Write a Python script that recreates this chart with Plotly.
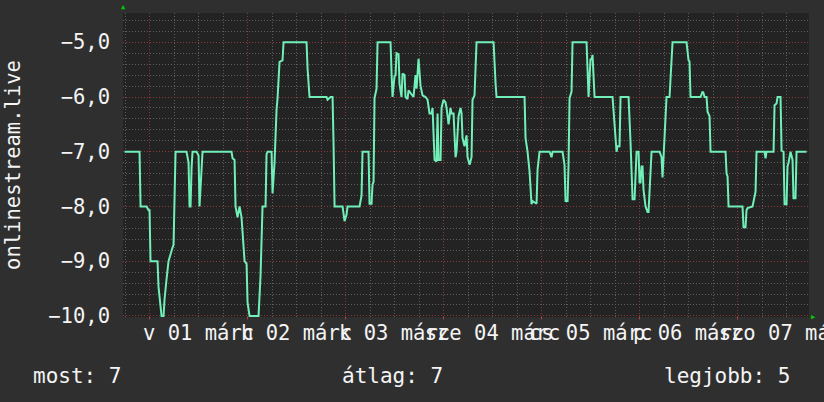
import plotly.graph_objects as go

# ---- data (hours since 2015-03-01 00:00, value = negated rank) ----
hours = [-6.12, -2.45, -2.20, -0.73, -0.24, 0.00, 0.24, 1.96, 2.20, 2.69, 2.94, 3.43, 3.67, 4.16, 4.65,
         5.63, 5.88, 6.37, 9.06, 9.31, 9.55, 9.80, 10.04, 10.29, 10.53, 11.51, 12.00, 12.24, 12.73, 12.98,
         20.08, 20.33, 20.82, 21.06, 21.55, 22.04, 22.53, 23.27, 23.76, 24.00, 24.49, 26.69, 27.18, 27.67,
         28.41, 28.65, 28.90, 29.88, 30.12, 30.61, 31.10, 31.35, 31.84, 32.57, 32.82, 38.45, 38.69, 39.18,
         43.35, 43.59, 44.33, 44.82, 45.06, 45.31, 47.27, 47.76, 48.25, 48.49, 51.43, 51.92, 52.16, 53.63,
         53.88, 54.37, 54.61, 54.86, 55.10, 55.59, 55.84, 59.02, 59.27, 59.51, 60.00, 60.25, 60.49, 60.98,
         61.22, 61.71, 61.96, 62.45, 62.69, 63.18, 63.43, 63.92, 64.16, 64.65, 65.14, 65.39, 65.88, 66.37,
         66.86, 67.59, 68.08, 68.57, 69.06, 69.31, 69.80, 70.29, 70.53, 70.78, 71.27, 71.51, 72.00, 72.49,
         72.74, 73.23, 73.71, 73.96, 74.45, 74.94, 75.18, 75.67, 76.16, 76.41, 76.65, 77.14, 77.63, 77.88,
         78.37, 78.86, 79.10, 79.59, 80.08, 84.25, 84.74, 84.98, 91.84, 92.08, 92.57, 93.06, 93.55, 93.80,
         94.78, 95.02, 95.51, 97.96, 98.45, 98.69, 101.14, 101.63, 101.88, 102.37, 102.61, 102.86, 103.35,
         103.59, 107.02, 107.27, 107.51, 108.00, 108.25, 108.49, 108.98, 113.39, 113.88, 114.37, 114.61,
         115.10, 115.35, 117.31, 117.80, 118.04, 118.29, 118.78, 119.02, 119.27, 119.76, 120.00, 120.24,
         120.49, 120.73, 120.98, 121.47, 121.96, 122.20, 122.45, 122.94, 124.90, 125.39, 125.63, 126.12,
         126.61, 127.35, 127.84, 128.08, 131.51, 132.00, 132.24, 132.49, 134.94, 135.43, 135.67, 135.92,
         136.41, 136.65, 137.14, 137.39, 141.06, 141.31, 141.55, 141.80, 145.22, 145.47, 145.96, 146.20,
         146.45, 147.67, 148.41, 148.65, 150.61, 150.86, 151.10, 152.82, 153.06, 153.55, 153.80, 154.53,
         154.78, 155.27, 155.51, 156.00, 156.24, 156.49, 156.98, 157.22, 157.47, 157.71, 158.20, 158.45,
         160.90]
values = [-7.0, -7.0, -8.0, -8.0, -8.07, -8.07, -9.0, -9.0, -9.47, -9.93, -10.0, -10.0, -9.7, -9.33, -9.0,
          -8.75, -8.7, -7.0, -7.0, -7.1, -7.2, -8.0, -8.0, -7.3, -7.0, -7.0, -7.07, -8.0, -7.45, -7.0,
          -7.0, -7.12, -7.15, -8.0, -8.2, -8.0, -8.2, -9.0, -9.05, -9.75, -10.0, -10.0, -9.27, -8.0,
          -8.0, -7.05, -7.0, -7.0, -7.76, -7.2, -6.24, -6.02, -5.36, -5.33, -5.0, -5.0, -5.47, -6.0,
          -6.0, -6.05, -6.0, -6.0, -6.84, -8.0, -8.0, -8.27, -8.15, -8.0, -8.0, -7.8, -7.0, -7.0,
          -7.95, -7.95, -7.6, -7.55, -6.02, -5.85, -5.0, -5.0, -5.56, -6.0, -5.62, -5.6, -5.2, -5.22,
          -5.76, -6.0, -5.57, -5.6, -6.0, -6.04, -5.88, -5.93, -5.97, -6.0, -5.6, -5.85, -5.3, -5.8,
          -5.97, -6.0, -6.05, -6.3, -6.3, -6.2, -7.15, -7.18, -6.3, -7.15, -7.15, -6.2, -6.05, -6.1,
          -6.2, -6.5, -6.2, -6.3, -6.3, -7.1, -7.0, -6.35, -6.2, -6.3, -6.75, -6.9, -6.7, -7.1,
          -7.24, -7.1, -6.05, -5.97, -5.0, -5.0, -5.75, -6.0, -6.0, -6.75, -7.0, -7.36, -7.96, -7.9,
          -7.95, -7.33, -7.0, -7.0, -7.1, -7.0, -7.0, -7.24, -7.9, -7.9, -7.24, -6.02, -5.9,
          -5.0, -5.0, -5.65, -6.0, -5.3, -5.32, -5.23, -6.0, -6.0, -6.55, -7.0, -6.9,
          -6.9, -6.0, -6.0, -6.84, -7.47, -7.87, -7.87, -7.27, -7.0, -7.0, -7.56, -7.56,
          -7.27, -7.27, -7.7, -8.0, -8.1, -8.1, -7.7, -7.0, -7.0, -7.1, -7.47, -6.73,
          -6.0, -6.0, -5.38, -5.0, -5.0, -5.33, -5.35, -6.0, -6.0, -5.9, -5.93, -6.0,
          -6.0, -6.27, -6.35, -7.0, -7.0, -7.4, -7.45, -8.0, -8.0, -8.38, -8.38, -8.07,
          -8.03, -8.0, -7.73, -7.0, -7.0, -7.12, -7.0, -7.0, -6.15, -6.12, -6.0, -6.0,
          -6.98, -7.0, -7.96, -7.96, -7.27, -7.2, -7.0, -7.1, -7.15, -7.85, -7.85, -7.0,
          -7.0]

day_ticks = [0, 24, 48, 72, 96, 120, 144]
label_ticks = [12, 36, 60, 84, 108, 132, 156]
day_labels = ["v 01 márc", "h 02 márc", "k 03 márc", "sze 04 márc", "cs 05 márc", "p 06 márc", "szo 07 márc"]
y_ticks = [-10, -9, -8, -7, -6, -5]

series_name = "onlinestream.live"
summary_labels = ["most", "átlag", "legjobb"]
summary_values = [7, 7, 5]

# ---- style ----
PAGE_BG = "#2f2f2f"
PLOT_BG = "#232323"
MINOR = "#5e5e5e"
MAJOR = "#8e3a3a"
LINE = "#70f0b8"
FONT = "DejaVu Sans Mono"
TXT = "#f4f4f4"
X_RANGE = [-6.5, 161.5]
Y_RANGE = [-10.02, -4.465]
DASH = "1px,2px"

# 6-hourly grid positions that are neither midnight nor noon (noon = label ticks)
x_minor = [h for h in range(-6, 162, 6) if h % 12 != 0]
y_minor = [round(-10 + 0.2 * i, 1) for i in range(0, 28) if i % 5 != 0]

fig = go.Figure()
fig.add_trace(go.Scatter(x=hours, y=values, mode="lines",
                         line=dict(color=LINE, width=2), hoverinfo="skip",
                         showlegend=False))

# midnight (day) gridlines in red
for d in day_ticks:
    fig.add_shape(type="line", xref="x", yref="paper", x0=d, x1=d, y0=0, y1=1,
                  line=dict(color=MAJOR, width=1, dash=DASH), layer="between")
    fig.add_shape(type="line", xref="x", yref="paper", x0=d, x1=d, y0=0, y1=-0.008,
                  line=dict(color="#c04040", width=1), layer="between")

fig.update_layout(
    width=824, height=402,
    margin=dict(l=123, r=15, t=13, b=85, autoexpand=False),
    paper_bgcolor=PAGE_BG, plot_bgcolor=PLOT_BG,
    separators=",.",
    font=dict(family=FONT, color=TXT, size=20.5),
    xaxis=dict(range=X_RANGE, tickmode="array", tickvals=label_ticks, ticktext=day_labels,
               ticks="", tickangle=0, ticklabelstandoff=1, ticklabeloverflow="allow",
               automargin=False,
               tickfont=dict(family=FONT, size=20.5, color=TXT),
               showgrid=True, gridcolor=MINOR, griddash=DASH, gridwidth=1,
               minor=dict(tickmode="array", tickvals=x_minor, showgrid=True,
                          gridcolor=MINOR, griddash=DASH, gridwidth=1),
               zeroline=False, showline=False, fixedrange=True),
    yaxis=dict(range=Y_RANGE, tickmode="array", tickvals=y_ticks, tickformat=".1f",
               showgrid=True, gridcolor=MAJOR, griddash=DASH, gridwidth=1,
               minor=dict(tickmode="array", tickvals=y_minor, showgrid=True,
                          gridcolor=MINOR, griddash=DASH, gridwidth=1),
               ticks="", ticklabelstandoff=12, zeroline=False, showline=False,
               automargin=False,
               tickfont=dict(family=FONT, size=20.5, color=TXT),
               title=dict(text=series_name, standoff=22,
                          font=dict(family=FONT, size=20.5, color=TXT)),
               fixedrange=True),
)

# summary row
summary_x = [-0.134, 0.3163, 0.7857]
for lab, val, xp in zip(summary_labels, summary_values, summary_x):
    fig.add_annotation(text=f"{lab}: {val}", xref="paper", yref="paper", x=xp, y=-0.195,
                       xanchor="left", yanchor="middle", showarrow=False,
                       font=dict(family=FONT, size=21, color=TXT))

# axis arrows
fig.add_annotation(text="▲", xref="paper", yref="paper", x=0.0, y=1.0, xanchor="center",
                   yanchor="bottom", showarrow=False, font=dict(size=7, color="#00c800"))
fig.add_annotation(text="▶", xref="paper", yref="paper", x=1.0, y=0.0, xanchor="left",
                   yanchor="middle", showarrow=False, font=dict(size=7, color="#00c800"))

fig.write_html("out.html", config={"displayModeBar": False, "staticPlot": True},
               post_script="document.body.style.margin='0';document.body.style.overflow='hidden';")
